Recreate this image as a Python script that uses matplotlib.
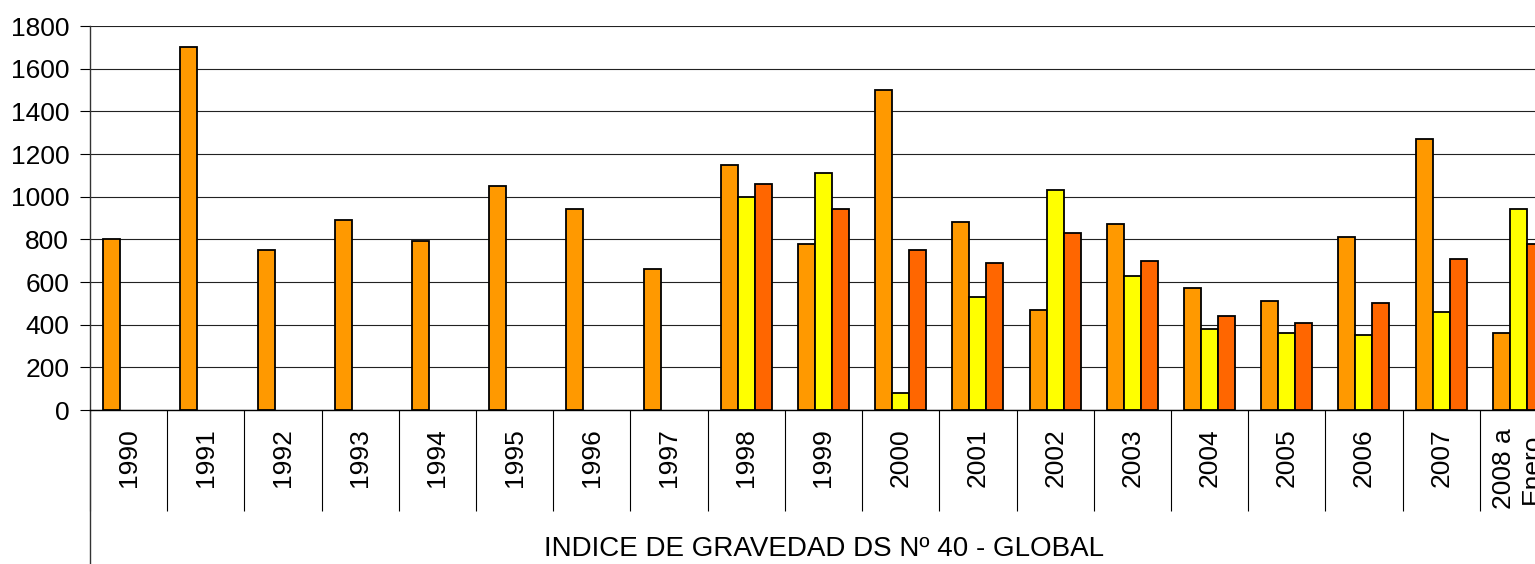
import numpy as np
import matplotlib.pyplot as plt

plt.rcParams['font.family'] = ['Liberation Sans', 'DejaVu Sans']

categories = ['1990', '1991', '1992', '1993', '1994', '1995', '1996', '1997',
              '1998', '1999', '2000', '2001', '2002', '2003', '2004', '2005',
              '2006', '2007', '2008 a\nEnero']
serie1 = [800, 1700, 750, 890, 790, 1050, 940, 660, 1150, 780, 1500, 880,
          470, 870, 570, 510, 810, 1270, 360]
serie2 = [0, 0, 0, 0, 0, 0, 0, 0, 1000, 1110, 80, 530, 1030, 630, 380, 360,
          350, 460, 940]
serie3 = [0, 0, 0, 0, 0, 0, 0, 0, 1060, 940, 750, 690, 830, 700, 440, 410,
          500, 710, 780]
xlabel = 'INDICE DE GRAVEDAD DS Nº 40 - GLOBAL'

W, H = 1535, 564
fig = plt.figure(figsize=(W / 100, H / 100), dpi=100)
# plot area: x 90 -> 1557 (cut off on the right), y 26 -> 410
ax = fig.add_axes([90 / W, (H - 410) / H, (1557 - 90) / W, (410 - 26) / H])

n = len(categories)
centers = np.arange(n) + 0.5
w = 0.22
s2 = np.array(serie2, dtype=float)
s3 = np.array(serie3, dtype=float)
ax.bar(centers - w, serie1, w, color='#FF9900', edgecolor='black', linewidth=1.3, zorder=3)
m = s2 > 0
ax.bar(centers[m], s2[m], w, color='#FFFF00', edgecolor='black', linewidth=1.3, zorder=3)
m = s3 > 0
ax.bar(centers[m] + w, s3[m], w, color='#FF6600', edgecolor='black', linewidth=1.3, zorder=3)

ax.set_xlim(0, n)
ax.set_ylim(0, 1800)
ax.set_yticks(np.arange(0, 1801, 200))
ax.yaxis.grid(True, color='#222222', linewidth=0.8, zorder=0)
ax.tick_params(axis='y', labelsize=19, length=7, width=0.8, pad=8)

ax.set_xticks(np.arange(0, n + 1))
ax.set_xticklabels([])
ax.tick_params(axis='x', which='major', length=73, width=0.8, direction='out')
ax.set_xticks(centers, minor=True)
ax.set_xticklabels(categories, minor=True, rotation=90, fontsize=19,
                   va='top', ha='center', multialignment='center')
ax.tick_params(axis='x', which='minor', length=0, pad=13)

for sp in ['top', 'right']:
    ax.spines[sp].set_visible(False)
ax.spines['left'].set_linewidth(1.0)
ax.spines['left'].set_color('#333333')
ax.spines['bottom'].set_linewidth(1.0)

# left spine continues down to the bottom edge
ax.plot([0, 0], [0, -(H - 410) / (410 - 26)], transform=ax.transAxes,
        color='#333333', linewidth=1.0, clip_on=False)

fig.text(824 / W, 1 - 549 / H, xlabel, ha='center', va='center', fontsize=20)

fig.savefig('out.png', dpi=100)
